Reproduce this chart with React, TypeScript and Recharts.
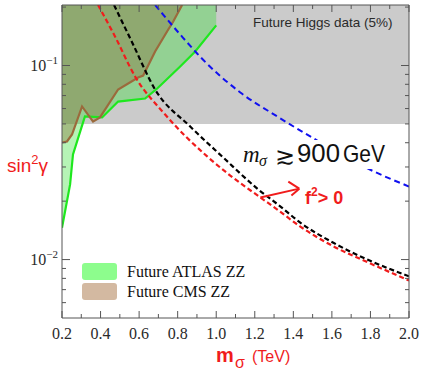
import React from 'react';
import { ComposedChart, Area, Line, XAxis, YAxis, ReferenceArea, ReferenceLine } from 'recharts';

// sin^2(gamma) axis range (log), m_sigma axis range (TeV)
const SIN2_TOP = 0.205;
const SIN2_BOTTOM = 0.005;
const HIGGS_LIMIT = 0.05;
const M_MIN = 0.2;
const M_MAX = 2.0;

// Future ATLAS ZZ exclusion edge (region above is excluded, up to m = 1 TeV)
const ATLAS_M = [0.2, 0.242, 0.257, 0.319, 0.408, 0.491, 0.631, 0.694, 0.813, 0.891, 1.0];
const ATLAS_SIN2 = [0.0146, 0.0244, 0.0348, 0.0546, 0.054, 0.0652, 0.0676, 0.0761, 0.0988, 0.118, 0.161];

// Future CMS ZZ exclusion edge
const CMS_M = [0.2, 0.226, 0.252, 0.304, 0.361, 0.397, 0.491, 0.595, 0.621, 0.683, 0.745, 0.777, 0.823];
const CMS_SIN2 = [0.0401, 0.0406, 0.0441, 0.0615, 0.0514, 0.054, 0.0752, 0.0867, 0.0888, 0.118, 0.1496, 0.1686, 0.205];

// dashed curves
const BLACK_M = [0.47, 0.564, 0.683, 0.865, 1.036, 1.213, 1.332, 1.436, 1.608, 1.784, 2.0];
const BLACK_SIN2 = [0.205, 0.1314, 0.0752, 0.0485, 0.0336, 0.0232, 0.0188, 0.0155, 0.0122, 0.01, 0.0082];
const RED_M = [0.387, 0.475, 0.579, 0.735, 0.953, 1.073, 1.229, 1.317, 1.436, 1.608, 1.784, 2.0];
const RED_SIN2 = [0.205, 0.1411, 0.0878, 0.0559, 0.034, 0.0271, 0.0209, 0.0181, 0.0148, 0.0117, 0.0097, 0.0078];
const BLUE_M = [0.683, 0.813, 0.932, 1.125, 1.317, 1.514, 1.816, 2.0];
const BLUE_SIN2 = [0.205, 0.1445, 0.107, 0.0726, 0.0546, 0.0416, 0.0285, 0.0238];

// f^2 > 0 arrow (tail, head, two barbs)
const ARROW_M = [1.229, 1.431, 1.374, 1.39];
const ARROW_SIN2 = [0.0209, 0.0232, 0.0252, 0.0214];

const X_TICKS = [0.2, 0.3, 0.4, 0.5, 0.6, 0.7, 0.8, 0.9, 1.0, 1.1, 1.2, 1.3, 1.4, 1.5, 1.6, 1.7, 1.8, 1.9, 2.0];
const Y_TICKS = [0.006, 0.007, 0.008, 0.009, 0.01, 0.02, 0.03, 0.04, 0.05, 0.06, 0.07, 0.08, 0.09, 0.1, 0.2];
const Y_MAJOR = [0.01, 0.1];
const Y_MAJOR_EXP = ['\u22122', '\u22121'];

const LEGEND_NAMES = ['Future ATLAS ZZ', 'Future CMS ZZ'];
const LEGEND_COLORS = ['#8dfd8d', '#d3b9a1'];

const SERIF = '"Liberation Serif", "Times New Roman", serif';
const SANS = '"Liberation Sans", Arial, sans-serif';
const AXIS = '#555';
const INK = '#2a2a2a';
const RED = '#f01c1c';

const atlasData = ATLAS_M.map((m, i) => ({ m, band: [ATLAS_SIN2[i], SIN2_TOP], edge: ATLAS_SIN2[i] }));
const cmsData = CMS_M.map((m, i) => ({ m, band: [CMS_SIN2[i], SIN2_TOP], edge: CMS_SIN2[i] }));
const blackData = BLACK_M.map((m, i) => ({ m, s: BLACK_SIN2[i] }));
const redData = RED_M.map((m, i) => ({ m, s: RED_SIN2[i] }));
const blueData = BLUE_M.map((m, i) => ({ m, s: BLUE_SIN2[i] }));
const arrowPt = (i: number) => ({ x: ARROW_M[i], y: ARROW_SIN2[i] });

const majorIndex = (v: number) => Y_MAJOR.findIndex((t) => Math.abs(t - v) < 1e-9);
const isMajorX = (v: number) => Math.round(v * 10) % 2 === 0;

function LeftTick(props: any) {
    const { x, y, payload } = props;
    const i = majorIndex(payload.value);
    return (
        <g>
            <line x1={x} y1={y} x2={x + (i >= 0 ? 8 : 4)} y2={y} stroke={AXIS} />
            {i >= 0 && (
                <text x={x - 4} y={y + 5} textAnchor="end" fontFamily={SERIF} fontSize={16} fill={INK}>
                    10<tspan dy={-7} fontSize={11}>{Y_MAJOR_EXP[i]}</tspan>
                </text>
            )}
        </g>
    );
}

function RightTick(props: any) {
    const { x, y, payload } = props;
    const len = majorIndex(payload.value) >= 0 ? 8 : 4;
    return <line x1={x} y1={y} x2={x - len} y2={y} stroke={AXIS} />;
}

function BottomTick(props: any) {
    const { x, y, payload } = props;
    const major = isMajorX(payload.value);
    return (
        <g>
            <line x1={x} y1={y} x2={x} y2={y - (major ? 7 : 4)} stroke={AXIS} />
            {major && (
                <text x={x} y={y + 21} textAnchor="middle" fontFamily={SERIF} fontSize={16} fill={INK}>
                    {payload.value.toFixed(1)}
                </text>
            )}
        </g>
    );
}

function TopTick(props: any) {
    const { x, y, payload } = props;
    return <line x1={x} y1={y} x2={x} y2={y + (isMajorX(payload.value) ? 7 : 4)} stroke={AXIS} />;
}

export default function App() {
    return (
        <div style={{ position: 'absolute', left: 0, top: 0, width: 421, height: 370, background: '#fff' }}>
            <ComposedChart width={421} height={370} margin={{ top: 4, right: 11, bottom: 0, left: 0 }}>
                <XAxis
                    xAxisId={0}
                    dataKey="m"
                    type="number"
                    domain={[M_MIN, M_MAX]}
                    allowDataOverflow
                    ticks={X_TICKS}
                    interval={0}
                    height={52}
                    tickSize={0}
                    tickMargin={0}
                    tick={<BottomTick />}
                    axisLine={{ stroke: AXIS }}
                    tickLine={false}
                />
                <XAxis
                    xAxisId="top"
                    orientation="top"
                    dataKey="m"
                    type="number"
                    domain={[M_MIN, M_MAX]}
                    allowDataOverflow
                    ticks={X_TICKS}
                    interval={0}
                    height={1}
                    tickSize={0}
                    tickMargin={0}
                    tick={<TopTick />}
                    axisLine={{ stroke: AXIS }}
                    tickLine={false}
                />
                <YAxis
                    yAxisId={0}
                    type="number"
                    scale="log"
                    domain={[SIN2_BOTTOM, SIN2_TOP]}
                    allowDataOverflow
                    ticks={Y_TICKS}
                    interval={0}
                    width={62}
                    tickSize={0}
                    tickMargin={0}
                    tick={<LeftTick />}
                    axisLine={{ stroke: AXIS }}
                    tickLine={false}
                />
                <YAxis
                    yAxisId="right"
                    orientation="right"
                    type="number"
                    scale="log"
                    domain={[SIN2_BOTTOM, SIN2_TOP]}
                    allowDataOverflow
                    ticks={Y_TICKS}
                    interval={0}
                    width={1}
                    tickSize={0}
                    tickMargin={0}
                    tick={<RightTick />}
                    axisLine={{ stroke: AXIS }}
                    tickLine={false}
                />
                <ReferenceArea x1={M_MIN} x2={M_MAX} y1={HIGGS_LIMIT} y2={SIN2_TOP} fill="#cbcbcb" fillOpacity={1} stroke="none" ifOverflow="hidden" />
                <Area data={atlasData} dataKey="band" type="linear" fill="#22dd22" fillOpacity={0.33} stroke="none" isAnimationActive={false} activeDot={false} />
                <Area data={cmsData} dataKey="band" type="linear" fill="#8a7340" fillOpacity={0.42} stroke="none" isAnimationActive={false} activeDot={false} />
                <Line data={atlasData} dataKey="edge" type="linear" stroke="#1ee81e" strokeWidth={2.2} dot={false} activeDot={false} isAnimationActive={false} />
                <Line data={cmsData} dataKey="edge" type="linear" stroke="#9b6a3c" strokeWidth={2.2} dot={false} activeDot={false} isAnimationActive={false} />
                <Line data={blueData} dataKey="s" type="monotone" stroke="#1010f0" strokeWidth={2} strokeDasharray="6 4" dot={false} activeDot={false} isAnimationActive={false} />
                <Line data={redData} dataKey="s" type="monotone" stroke={RED} strokeWidth={2.2} strokeDasharray="5 3" dot={false} activeDot={false} isAnimationActive={false} />
                <Line data={blackData} dataKey="s" type="monotone" stroke="#000" strokeWidth={2.2} strokeDasharray="5 3" dot={false} activeDot={false} isAnimationActive={false} />
                <ReferenceLine segment={[arrowPt(0), arrowPt(1)]} stroke={RED} strokeWidth={2} ifOverflow="visible" />
                <ReferenceLine segment={[arrowPt(2), arrowPt(1)]} stroke={RED} strokeWidth={2} ifOverflow="visible" />
                <ReferenceLine segment={[arrowPt(3), arrowPt(1)]} stroke={RED} strokeWidth={2} ifOverflow="visible" />
            </ComposedChart>
            <svg width={421} height={370} style={{ position: 'absolute', left: 0, top: 0, pointerEvents: 'none' }}>
                <text x={253} y={27} fontFamily={SANS} fontSize={13.5} fill={INK}>Future Higgs data (5%)</text>

                <rect x={238} y={140} width={158} height={29} fill="#fff" />
                <text x={243} y={162} fontFamily={SERIF} fontStyle="italic" fontSize={23} fill="#111">m</text>
                <text x={259} y={166} fontFamily={SERIF} fontStyle="italic" fontSize={16} fill="#111">σ</text>
                <text x={275} y={164} fontFamily='"DejaVu Sans", sans-serif' fontSize={24} fill="#111">≳</text>
                <text x={297} y={162} fontFamily={SANS} fontSize={25} fill="#111" textLength={43} lengthAdjust="spacingAndGlyphs">900</text>
                <text x={343} y={162} fontFamily={SANS} fontSize={24} fill="#111" textLength={42} lengthAdjust="spacingAndGlyphs">GeV</text>

                <text x={305} y={204} fontFamily={SANS} fontWeight="bold" fontSize={18} fill={RED}>
                    f<tspan dy={-8} fontSize={12}>2</tspan><tspan dy={8}>{'> 0'}</tspan>
                </text>

                <text x={7} y={172} fontFamily={SANS} fontSize={19} fill={RED}>
                    sin<tspan dy={-8} fontSize={13}>2</tspan><tspan dy={8}>γ</tspan>
                </text>

                <text x={216} y={362} fontFamily={SANS} fontWeight="bold" fontSize={20} fill={RED}>m</text>
                <text x={235} y={368} fontFamily={SANS} fontSize={16} fill={RED}>σ</text>
                <text x={252} y={362} fontFamily={SANS} fontSize={16} fill={RED}>(TeV)</text>

                {LEGEND_NAMES.map((name, i) => (
                    <g key={name}>
                        <rect x={82} y={263 + i * 20} width={35} height={17} rx={3} fill={LEGEND_COLORS[i]} />
                        <text x={127} y={277 + i * 20} fontFamily={SERIF} fontSize={16} fill="#111">{name}</text>
                    </g>
                ))}
            </svg>
        </div>
    );
}
